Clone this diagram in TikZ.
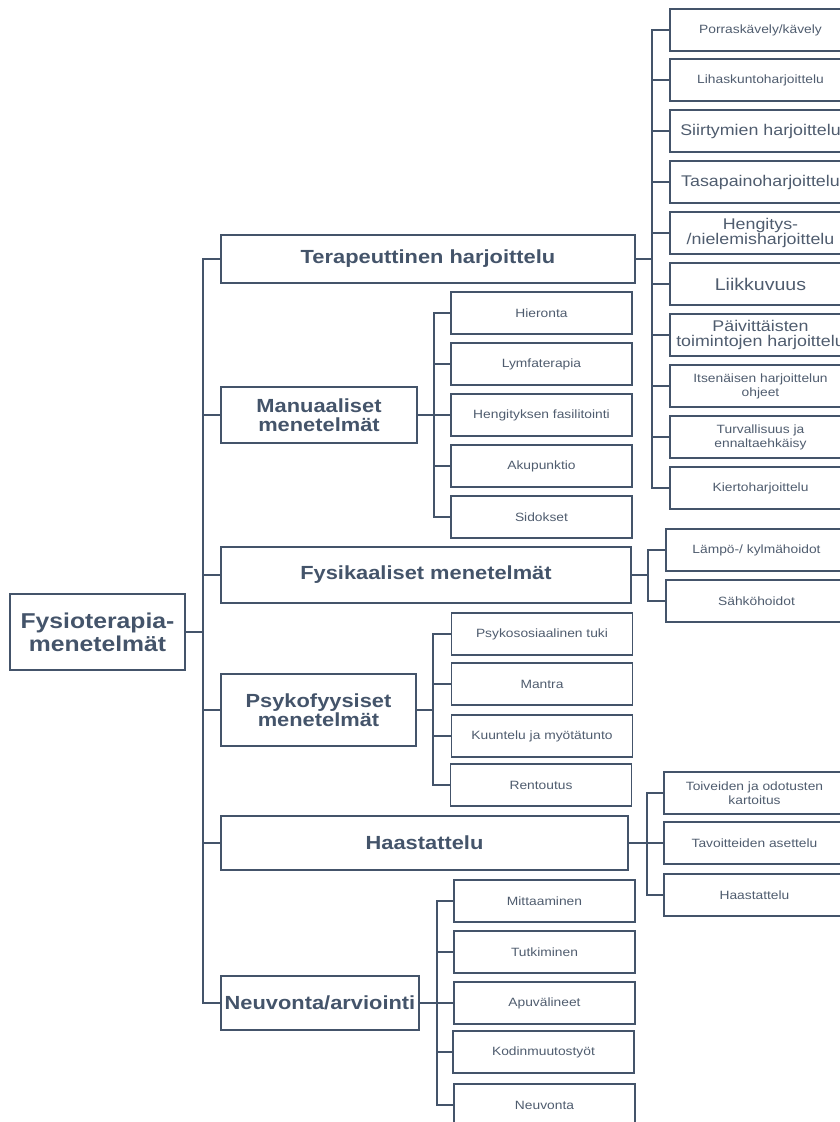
\documentclass[tikz,border=0pt]{standalone}
\usepackage{fontspec}
\setmainfont{Liberation Sans}[FakeStretch=1.15]
\definecolor{ink}{HTML}{44546A}
\definecolor{inkl}{HTML}{4F5C6E}
\begin{document}
\begin{tikzpicture}[x=1pt,y=-1pt,
  box/.style={draw=ink, line width=1.8pt, inner sep=0pt, align=center, text=ink},
  lone/.style={box, font=\fontsize{19}{19}\selectfont\bfseries},
  rootbox/.style={box, font=\fontsize{21.5}{23}\selectfont\bfseries},
  small/.style={box, text=inkl, minimum width=181pt, minimum height=42pt, font=\fontsize{12}{14}\selectfont},
  big/.style={small, font=\fontsize{15.5}{15.5}\selectfont},
  link/.style={draw=ink, line width=2pt}]
\useasboundingbox (0,0) rectangle (840,1122);

% root
\node[rootbox, minimum width=175pt, minimum height=76pt] (R) at (97.5,632) {Fysioterapia-\\menetelmät};

% level 1
\node[lone, minimum width=414pt, minimum height=48pt] (T) at (428,259) {Terapeuttinen harjoittelu};
\node[lone, minimum width=196pt, minimum height=56pt] (M) at (319,415) {Manuaaliset\\menetelmät};
\node[lone, minimum width=410pt, minimum height=56pt] (F) at (426,575) {Fysikaaliset menetelmät};
\node[lone, minimum width=195pt, minimum height=72pt] (P) at (318.5,710) {Psykofyysiset\\menetelmät};
\node[lone, minimum width=407pt, minimum height=54pt] (H) at (424.5,843) {Haastattelu};
\node[lone, minimum width=198pt, minimum height=54pt] (N) at (320,1003) {Neuvonta/arviointi};

% trunks
\coordinate (tr) at (203,0);
\coordinate (tT) at (652,0);
\coordinate (tM) at (434,0);
\coordinate (tF) at (648,0);
\coordinate (tP) at (433,0);
\coordinate (tH) at (647,0);
\coordinate (tN) at (437,0);

% children of T
\node[small] (T1) at (760.5,30) {Porraskävely/kävely};
\node[small] (T2) at (760.5,80) {Lihaskuntoharjoittelu};
\node[big]   (T3) at (760.5,131) {Siirtymien harjoittelu};
\node[big]   (T4) at (760.5,182) {Tasapainoharjoittelu};
\node[big]   (T5) at (760.5,233) {Hengitys-\\/nielemisharjoittelu};
\node[big, font=\fontsize{17}{16}\selectfont] (T6) at (760.5,284) {Liikkuvuus};
\node[big]   (T7) at (760.5,335) {Päivittäisten\\toimintojen harjoittelu};
\node[small] (T8) at (760.5,386) {Itsenäisen harjoittelun\\ohjeet};
\node[small] (T9) at (760.5,437) {Turvallisuus ja\\ennaltaehkäisy};
\node[small] (T10) at (760.5,488) {Kiertoharjoittelu};

% children of M
\node[small] (M1) at (541.5,313) {Hieronta};
\node[small] (M2) at (541.5,364) {Lymfaterapia};
\node[small] (M3) at (541.5,415) {Hengityksen fasilitointi};
\node[small] (M4) at (541.5,466) {Akupunktio};
\node[small] (M5) at (541.5,517) {Sidokset};

% children of F
\node[small] (F1) at (756.5,550) {Lämpö-/ kylmähoidot};
\node[small] (F2) at (756.5,601) {Sähköhoidot};

% children of P
\node[small] (P1) at (542,634) {Psykososiaalinen tuki};
\node[small] (P2) at (542,684) {Mantra};
\node[small] (P3) at (542,736) {Kuuntelu ja myötätunto};
\node[small] (P4) at (541,785) {Rentoutus};

% children of H
\node[small] (H1) at (754.5,793) {Toiveiden ja odotusten\\kartoitus};
\node[small] (H2) at (754.5,843) {Tavoitteiden asettelu};
\node[small] (H3) at (754.5,895) {Haastattelu};

% children of N
\node[small] (N1) at (544.5,901) {Mittaaminen};
\node[small] (N2) at (544.5,952) {Tutkiminen};
\node[small] (N3) at (544.5,1003) {Apuvälineet};
\node[small] (N4) at (543.5,1052) {Kodinmuutostyöt};
\node[small] (N5) at (544.5,1105) {Neuvonta};

% connectors root -> level 1
\foreach \c in {T,M,F,P,H,N}
  \draw[link] (R.east) -- (R.east -| tr) |- (\c.west);

% connectors level 1 -> level 2
\foreach \c in {T1,T2,T3,T4,T5,T6,T7,T8,T9,T10}
  \draw[link] (T.east) -- (T.east -| tT) |- (\c.west);
\foreach \c in {M1,M2,M3,M4,M5}
  \draw[link] (M.east) -- (M.east -| tM) |- (\c.west);
\foreach \c in {F1,F2}
  \draw[link] (F.east) -- (F.east -| tF) |- (\c.west);
\foreach \c in {P1,P2,P3,P4}
  \draw[link] (P.east) -- (P.east -| tP) |- (\c.west);
\foreach \c in {H1,H2,H3}
  \draw[link] (H.east) -- (H.east -| tH) |- (\c.west);
\foreach \c in {N1,N2,N3,N4,N5}
  \draw[link] (N.east) -- (N.east -| tN) |- (\c.west);
\end{tikzpicture}
\end{document}
